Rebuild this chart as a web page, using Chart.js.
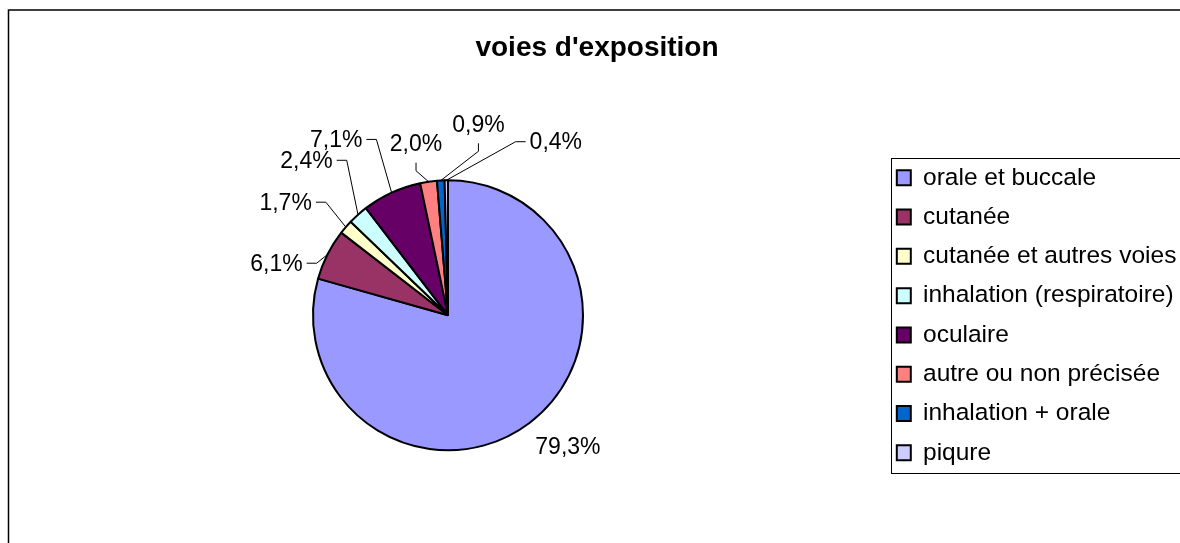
<!DOCTYPE html>
<html>
<head>
<meta charset="utf-8">
<title>voies d'exposition</title>
<script src="https://cdn.jsdelivr.net/npm/chart.js@4.4.1/dist/chart.umd.min.js"></script>
<style>
  html, body { margin: 0; padding: 0; background: #fff; }
  canvas { display: block; }
</style>
</head>
<body>
<canvas id="myChart" width="1180" height="543"></canvas>
<script>
const routes = [
  "orale et buccale",
  "cutanée",
  "cutanée et autres voies",
  "inhalation (respiratoire)",
  "oculaire",
  "autre ou non précisée",
  "inhalation + orale",
  "piqure",
];
const percentages = [79.3, 6.1, 1.7, 2.4, 7.1, 2.0, 0.9, 0.4];
const sliceColors = [
  "#9999FF",
  "#993366",
  "#FFFFCC",
  "#CCFFFF",
  "#660066",
  "#FF8080",
  "#0066CC",
  "#CCCCFF",
];

// label placement: angle from 12 o'clock (clockwise, degrees), distance in pie radii,
// and where the leader line leaves the text
const labelAngles = [137.3, 287.2, 305.1, 317.8, 327.7, 349.5, 9.0, 31.7];
const labelDistances = [1.31, 1.33, 1.47, 1.56, 1.55, 1.3, 1.44, 1.52];
const leaderStyles = ["none", "side", "side", "side", "side", "below", "below", "side"];

const FONT = "'Liberation Sans', Arial, sans-serif";

function formatPct(v) {
  return v.toFixed(1).replace(".", ",") + "%";
}

const framePlugin = {
  id: "frame",
  beforeDraw(chart) {
    const ctx = chart.ctx;
    ctx.save();
    ctx.fillStyle = "#fff";
    ctx.fillRect(0, 0, chart.width, chart.height);
    ctx.strokeStyle = "#000";
    ctx.lineWidth = 1.5;
    ctx.strokeRect(8.5, 10, chart.width, chart.height);
    ctx.restore();
  },
  afterDraw(chart) {
    // box round the legend items
    const boxes = chart.legend.legendHitBoxes;
    if (!boxes.length) return;
    const first = boxes[0];
    const last = boxes[boxes.length - 1];
    const ctx = chart.ctx;
    ctx.save();
    ctx.strokeStyle = "#000";
    ctx.lineWidth = 1;
    const top = Math.round(first.top - 7) + 0.5;
    const bottom = Math.round(last.top + last.height + 8) + 0.5;
    ctx.strokeRect(Math.round(first.left - 6) + 0.5, top, chart.width, bottom - top);
    ctx.restore();
  },
};

const pctLabels = {
  id: "pctLabels",
  afterDatasetsDraw(chart) {
    const ctx = chart.ctx;
    const arcs = chart.getDatasetMeta(0).data;
    ctx.save();
    ctx.font = "23px " + FONT;
    ctx.fillStyle = "#000";
    ctx.strokeStyle = "#000";
    ctx.lineWidth = 1;
    ctx.textAlign = "center";
    ctx.textBaseline = "alphabetic";

    arcs.forEach((arc, i) => {
      const { x, y, startAngle, endAngle, outerRadius } = arc.getProps(
        ["x", "y", "startAngle", "endAngle", "outerRadius"],
        true
      );
      const mid = (startAngle + endAngle) / 2;
      const ex = x + Math.cos(mid) * outerRadius;
      const ey = y + Math.sin(mid) * outerRadius;

      const a = ((labelAngles[i] - 90) * Math.PI) / 180;
      const lx = x + Math.cos(a) * outerRadius * labelDistances[i];
      const ly = y + Math.sin(a) * outerRadius * labelDistances[i];

      const text = formatPct(percentages[i]);
      const half = ctx.measureText(text).width / 2;
      ctx.fillText(text, lx, ly + 8.5);

      if (leaderStyles[i] == "side") {
        const dir = lx < x ? 1 : -1;
        const sx = lx + dir * (half + 4);
        ctx.beginPath();
        ctx.moveTo(sx, ly + 1);
        ctx.lineTo(sx + dir * 10, ly + 1);
        ctx.lineTo(ex, ey);
        ctx.stroke();
      } else if (leaderStyles[i] == "below") {
        ctx.beginPath();
        ctx.moveTo(lx, ly + 20);
        ctx.lineTo(lx, ly + 28);
        ctx.lineTo(ex, ey);
        ctx.stroke();
      }
    });
    ctx.restore();
  },
};

const ctx = document.getElementById("myChart").getContext("2d");
new Chart(ctx, {
  type: "pie",
  data: {
    labels: routes,
    datasets: [
      {
        data: percentages,
        backgroundColor: sliceColors,
        borderColor: "#000",
        borderWidth: 2,
        hoverOffset: 0,
        radius: 135,
      },
    ],
  },
  options: {
    responsive: false,
    animation: false,
    events: [],
    layout: {
      padding: { left: 14, right: 0, top: 0, bottom: 10 },
    },
    plugins: {
      title: {
        display: true,
        text: "voies d'exposition",
        color: "#000",
        font: { family: FONT, size: 28, weight: "bold" },
        padding: { top: 31, bottom: 33 },
      },
      legend: {
        position: "right",
        align: "center",
        fullSize: false,
        maxWidth: 298,
        labels: {
          color: "#000",
          font: { family: FONT, size: 24.5 },
          boxWidth: 14,
          boxHeight: 15,
          padding: 14.8,
        },
      },
      tooltip: { enabled: false },
    },
  },
  plugins: [framePlugin, pctLabels],
});
</script>
</body>
</html>
